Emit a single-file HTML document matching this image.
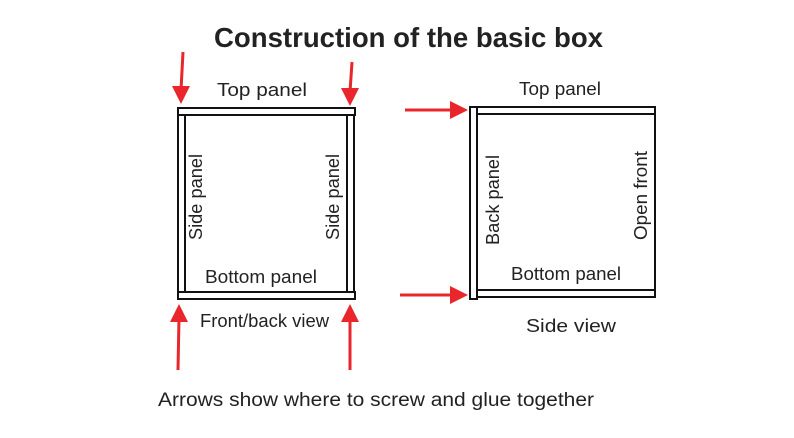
<!DOCTYPE html>
<html><head><meta charset="utf-8"><style>
html,body{margin:0;padding:0;background:#fff;}
svg{display:block;}
text{font-family:"Liberation Sans",Arial,sans-serif;fill:#222;}
</style></head><body>
<svg width="794" height="438" viewBox="0 0 794 438" xmlns="http://www.w3.org/2000/svg">
<text x="214" y="47" font-size="28" font-weight="bold" fill="#111" textLength="389" lengthAdjust="spacingAndGlyphs">Construction of the basic box</text>

<g fill="#fff" stroke="#111" stroke-width="2">
<rect x="178" y="108" width="177" height="7"/>
<rect x="178" y="115" width="7" height="177"/>
<rect x="347" y="115" width="7" height="177"/>
<rect x="178" y="292" width="177" height="7"/>
</g>
<text x="217" y="96" font-size="18" textLength="90" lengthAdjust="spacingAndGlyphs">Top panel</text>
<text x="205" y="283" font-size="18" textLength="112" lengthAdjust="spacingAndGlyphs">Bottom panel</text>
<text x="200" y="327" font-size="18" textLength="129" lengthAdjust="spacingAndGlyphs">Front/back view</text>
<text transform="translate(202,240) rotate(-90)" font-size="18" textLength="86" lengthAdjust="spacingAndGlyphs">Side panel</text>
<text transform="translate(339,240) rotate(-90)" font-size="18" textLength="86" lengthAdjust="spacingAndGlyphs">Side panel</text>

<g fill="#fff" stroke="#111" stroke-width="2">
<rect x="470" y="107" width="7" height="192"/>
<rect x="477" y="107" width="178" height="7"/>
<rect x="477" y="290" width="178" height="7"/>
<line x1="655" y1="114" x2="655" y2="290"/>
</g>
<text x="519" y="95" font-size="18" textLength="82" lengthAdjust="spacingAndGlyphs">Top panel</text>
<text x="511" y="280" font-size="18" textLength="110" lengthAdjust="spacingAndGlyphs">Bottom panel</text>
<text x="526" y="332" font-size="18" textLength="90" lengthAdjust="spacingAndGlyphs">Side view</text>
<text transform="translate(499,245) rotate(-90)" font-size="18" textLength="90" lengthAdjust="spacingAndGlyphs">Back panel</text>
<text transform="translate(647,240) rotate(-90)" font-size="18" textLength="89" lengthAdjust="spacingAndGlyphs">Open front</text>

<text x="158" y="406" font-size="19" textLength="436" lengthAdjust="spacingAndGlyphs">Arrows show where to screw and glue together</text>

<g stroke="#e8262c" stroke-width="3" fill="#e8262c">
<line x1="183" y1="52" x2="181" y2="90"/>
<line x1="352" y1="62" x2="350" y2="92"/>
<line x1="178" y1="370" x2="179" y2="318"/>
<line x1="350" y1="370" x2="350" y2="318"/>
<line x1="405" y1="110" x2="455" y2="110"/>
<line x1="400" y1="295" x2="455" y2="295"/>
</g>
<g fill="#e8262c">
<polygon points="172,86 190,86 181,104"/>
<polygon points="341,88 359,88 350,106"/>
<polygon points="170,322 188,322 179,304"/>
<polygon points="341,322 359,322 350,304"/>
<polygon points="450,101 450,119 468,110"/>
<polygon points="450,286 450,304 468,295"/>
</g>
</svg>
</body></html>
